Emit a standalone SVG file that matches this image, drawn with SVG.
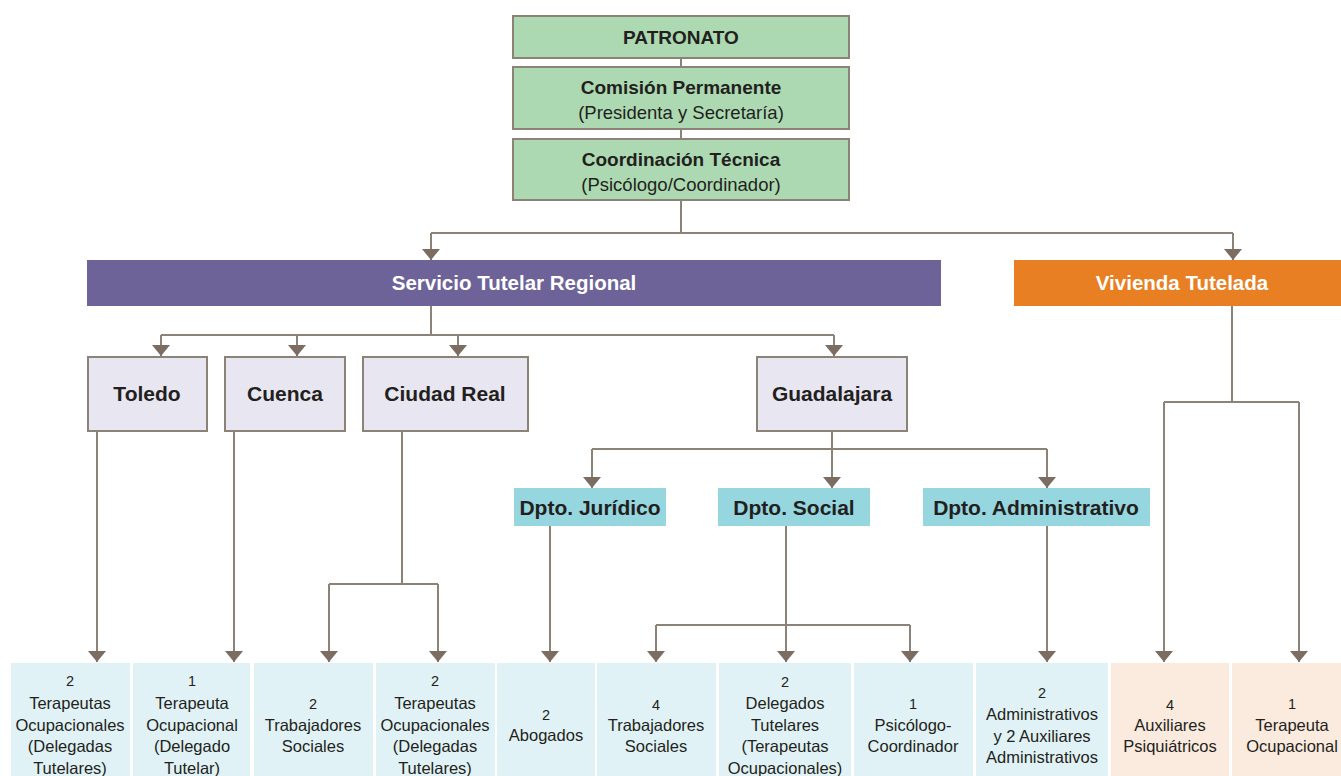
<svg xmlns="http://www.w3.org/2000/svg" width="1341" height="776" viewBox="0 0 1341 776">
<defs>
<marker id="arr" markerUnits="userSpaceOnUse" markerWidth="12" markerHeight="20" refX="11" refY="9" orient="auto">
<path d="M0,0 L11,9 L0,18 z" fill="#7b6d61"/>
</marker>
<style>
text{font-family:"Liberation Sans",Arial,sans-serif;text-anchor:middle;fill:#231f20}
.b{font-weight:bold;font-size:21px}
.t{font-weight:bold;font-size:19px}
.s{font-size:18.5px}
.w{fill:#ffffff;font-weight:bold;font-size:20.5px}
.r{font-size:16.5px}
.n{font-size:14.5px}
.green{fill:#acd9b1;stroke:#8c8278;stroke-width:2}
.lav{fill:#e8e6f1;stroke:#8c8278;stroke-width:2}
.dp{fill:#95d6df}
.cy{fill:#e0f2f5}
.pe{fill:#fbeade}
.c{fill:none;stroke:#8c8278;stroke-width:2}
.a{marker-end:url(#arr)}
</style>
</defs>
<rect width="1341" height="776" fill="#ffffff"/>

<g id="connectors">
<path class="c" d="M681,57 V67 M681,129 V139"/>
<path class="c" d="M681,200 V233 H431"/>
<path class="c a" d="M431,233 V260"/>
<path class="c" d="M681,233 H1233"/>
<path class="c a" d="M1233,233 V260"/>
<path class="c" d="M431,306 V335"/>
<path class="c" d="M161,335 H834"/>
<path class="c a" d="M161,335 V356"/>
<path class="c a" d="M297,335 V356"/>
<path class="c a" d="M458,335 V356"/>
<path class="c a" d="M834,335 V356"/>
<path class="c a" d="M97,431 V662"/>
<path class="c a" d="M234,431 V662"/>
<path class="c" d="M402,431 V584 M329,584 H438"/>
<path class="c a" d="M329,584 V662"/>
<path class="c a" d="M438,584 V662"/>
<path class="c" d="M592,449 H1047"/>
<path class="c a" d="M592,449 V488"/>
<path class="c a" d="M832,431 V488"/>
<path class="c a" d="M1047,449 V488"/>
<path class="c a" d="M550,526 V662"/>
<path class="c" d="M786,526 V625 M656,625 H910"/>
<path class="c a" d="M786,625 V662"/>
<path class="c a" d="M656,625 V662"/>
<path class="c a" d="M910,625 V662"/>
<path class="c a" d="M1047,526 V662"/>
<path class="c" d="M1232,306 V402 M1164,402 H1299"/>
<path class="c a" d="M1164,402 V662"/>
<path class="c a" d="M1299,402 V662"/>
</g>

<g id="patronato"><rect class="green" x="513" y="16" width="336" height="42"/><text class="t" x="681" y="44">PATRONATO</text></g>
<g id="comision"><rect class="green" x="513" y="67" width="336" height="62"/><text class="t" x="681" y="94">Comisión Permanente</text><text class="s" x="681" y="119">(Presidenta y Secretaría)</text></g>
<g id="coordinacion"><rect class="green" x="513" y="139" width="336" height="61"/><text class="t" x="681" y="166">Coordinación Técnica</text><text class="s" x="681" y="191">(Psicólogo/Coordinador)</text></g>

<g id="servicio"><rect x="87" y="260" width="854" height="46" fill="#6e6399"/><text class="w" x="514" y="290">Servicio Tutelar Regional</text></g>
<g id="vivienda"><rect x="1014" y="260" width="327" height="46" fill="#e87f22"/><text class="w" x="1182" y="290">Vivienda Tutelada</text></g>

<g id="toledo"><rect class="lav" x="88" y="357" width="119" height="74"/><text class="b" x="147" y="401">Toledo</text></g>
<g id="cuenca"><rect class="lav" x="225" y="357" width="120" height="74"/><text class="b" x="285" y="401">Cuenca</text></g>
<g id="ciudadreal"><rect class="lav" x="363" y="357" width="165" height="74"/><text class="b" x="445" y="401">Ciudad Real</text></g>
<g id="guadalajara"><rect class="lav" x="757" y="357" width="150" height="74"/><text class="b" x="832" y="401">Guadalajara</text></g>

<g id="juridico"><rect class="dp" x="514" y="488" width="152" height="38"/><text class="b" x="590" y="515">Dpto. Jurídico</text></g>
<g id="social"><rect class="dp" x="718" y="488" width="152" height="38"/><text class="b" x="794" y="515">Dpto. Social</text></g>
<g id="administrativo"><rect class="dp" x="923" y="488" width="227" height="38"/><text class="b" x="1036" y="515">Dpto. Administrativo</text></g>

<g id="b1"><rect class="cy" x="11" y="663" width="119" height="113"/>
<text class="n" x="70" y="686">2</text><text class="r" x="70" y="709">Terapeutas</text><text class="r" x="70" y="731">Ocupacionales</text><text class="r" x="70" y="752">(Delegadas</text><text class="r" x="70" y="774">Tutelares)</text></g>
<g id="b2"><rect class="cy" x="133" y="663" width="117" height="113"/>
<text class="n" x="192" y="686">1</text><text class="r" x="192" y="709">Terapeuta</text><text class="r" x="192" y="731">Ocupacional</text><text class="r" x="192" y="752">(Delegado</text><text class="r" x="192" y="774">Tutelar)</text></g>
<g id="b3"><rect class="cy" x="254" y="663" width="119" height="113"/>
<text class="n" x="313" y="709">2</text><text class="r" x="313" y="731">Trabajadores</text><text class="r" x="313" y="752">Sociales</text></g>
<g id="b4"><rect class="cy" x="376" y="663" width="119" height="113"/>
<text class="n" x="435" y="686">2</text><text class="r" x="435" y="709">Terapeutas</text><text class="r" x="435" y="731">Ocupacionales</text><text class="r" x="435" y="752">(Delegadas</text><text class="r" x="435" y="774">Tutelares)</text></g>
<g id="b5"><rect class="cy" x="497" y="663" width="98" height="113"/>
<text class="n" x="546" y="720">2</text><text class="r" x="546" y="741">Abogados</text></g>
<g id="b6"><rect class="cy" x="597" y="663" width="119" height="113"/>
<text class="n" x="656" y="710">4</text><text class="r" x="656" y="731">Trabajadores</text><text class="r" x="656" y="752">Sociales</text></g>
<g id="b7"><rect class="cy" x="719" y="663" width="132" height="113"/>
<text class="n" x="785" y="687">2</text><text class="r" x="785" y="709">Delegados</text><text class="r" x="785" y="731">Tutelares</text><text class="r" x="785" y="752">(Terapeutas</text><text class="r" x="785" y="774">Ocupacionales)</text></g>
<g id="b8"><rect class="cy" x="854" y="663" width="119" height="113"/>
<text class="n" x="913" y="709">1</text><text class="r" x="913" y="731">Psicólogo-</text><text class="r" x="913" y="752">Coordinador</text></g>
<g id="b9"><rect class="cy" x="976" y="663" width="132" height="113"/>
<text class="n" x="1042" y="698">2</text><text class="r" x="1042" y="720">Administrativos</text><text class="r" x="1042" y="742">y 2 Auxiliares</text><text class="r" x="1042" y="763">Administrativos</text></g>
<g id="b10"><rect class="pe" x="1111" y="663" width="118" height="113"/>
<text class="n" x="1170" y="710">4</text><text class="r" x="1170" y="731">Auxiliares</text><text class="r" x="1170" y="752">Psiquiátricos</text></g>
<g id="b11"><rect class="pe" x="1232" y="663" width="109" height="113"/>
<text class="n" x="1292" y="709">1</text><text class="r" x="1292" y="731">Terapeuta</text><text class="r" x="1292" y="752">Ocupacional</text></g>
</svg>
